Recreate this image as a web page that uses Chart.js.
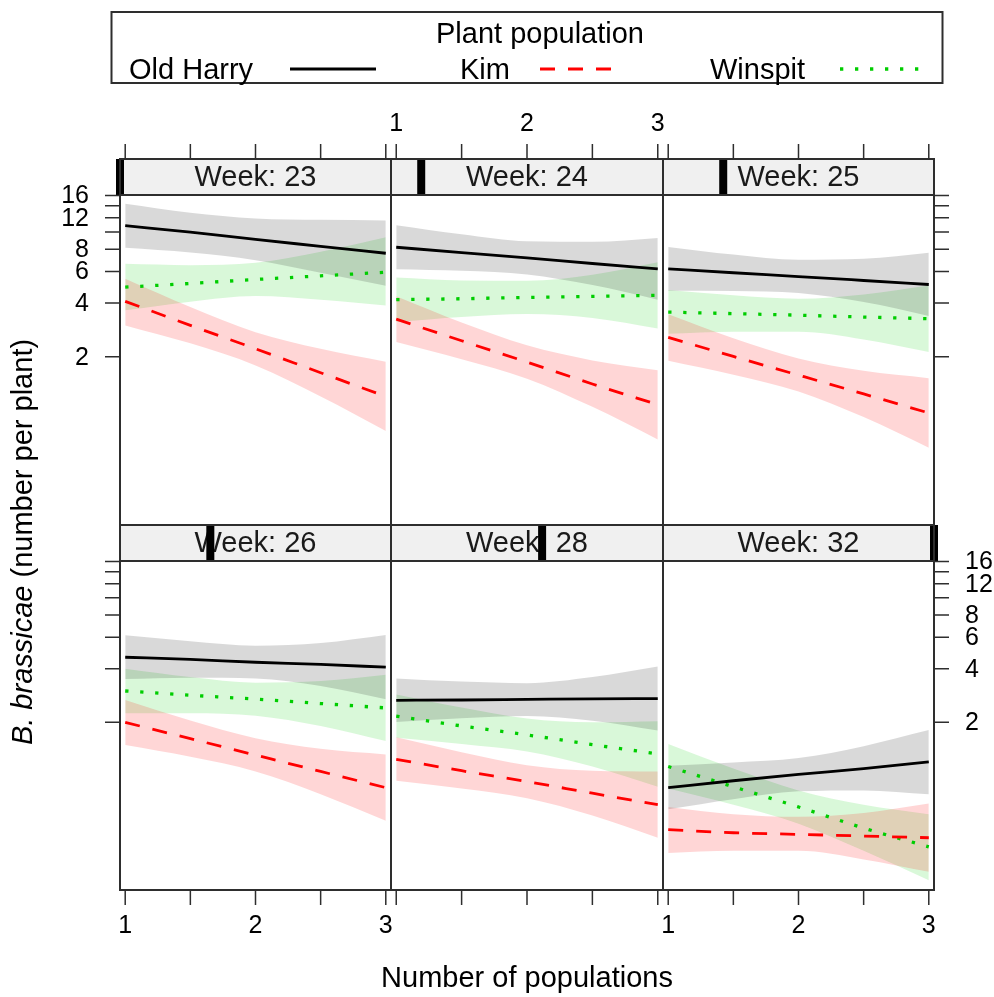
<!DOCTYPE html>
<html>
<head>
<meta charset="utf-8">
<script src="https://cdn.jsdelivr.net/npm/chart.js@4.4.1/dist/chart.umd.min.js"></script>
<style>
  body { margin: 0; background: #fff; }
  #wrap { position: relative; width: 994px; height: 997px; }
  #wrap canvas { position: absolute; left: 0; top: 0; }
</style>
</head>
<body>
<div id="wrap"></div>
<script>
// ---- data --------------------------------------------------------------
const weeks = [23, 24, 25, 26, 28, 32];
const populations = ['Old Harry', 'Kim', 'Winspit'];
const nPops = [1, 1.5, 2, 2.5, 3];

const xTickValues = [1, 1.5, 2, 2.5, 3];
const xTickLabels = ['1', '', '2', '', '3'];
const yTickValues = [2, 4, 6, 8, 10, 12, 14, 16];
const yTickLabels = ['2', '4', '6', '8', '', '12', '', '16'];

// one row per week, one value per number of populations
const oldHarryFit = [
  [10.84, 9.97, 9.08, 8.31, 7.60],
  [8.21, 7.67, 7.16, 6.66, 6.22],
  [6.22, 5.91, 5.63, 5.35, 5.08],
  [4.64, 4.51, 4.35, 4.23, 4.08],
  [2.66, 2.67, 2.69, 2.71, 2.72],
  [0.86, 0.94, 1.02, 1.10, 1.20]
];
const oldHarryUpper = [
  [14.4, 12.8, 11.9, 11.7, 11.6],
  [10.9, 9.70, 8.86, 8.80, 9.26],
  [8.25, 7.47, 6.98, 7.07, 7.64],
  [6.16, 5.70, 5.39, 5.58, 6.19],
  [3.53, 3.39, 3.32, 3.59, 4.12],
  [1.14, 1.19, 1.26, 1.47, 1.81]
];
const oldHarryLower = [
  [8.15, 7.67, 6.95, 5.91, 5.00],
  [6.19, 6.06, 5.78, 5.04, 4.18],
  [4.69, 4.67, 4.55, 4.05, 3.39],
  [3.50, 3.56, 3.52, 3.20, 2.70],
  [2.01, 2.11, 2.17, 2.04, 1.80],
  [0.65, 0.74, 0.82, 0.83, 0.79]
];

const kimFit = [
  [4.09, 3.00, 2.22, 1.63, 1.20],
  [3.25, 2.46, 1.87, 1.41, 1.08],
  [2.57, 2.01, 1.58, 1.24, 0.97],
  [2.00, 1.62, 1.31, 1.06, 0.86],
  [1.24, 1.07, 0.93, 0.80, 0.69],
  [0.50, 0.48, 0.47, 0.46, 0.45]
];
const kimUpper = [
  [5.47, 3.80, 2.75, 2.22, 1.88],
  [4.36, 3.11, 2.32, 1.91, 1.68],
  [3.46, 2.54, 1.96, 1.67, 1.52],
  [2.67, 2.05, 1.63, 1.42, 1.32],
  [1.65, 1.36, 1.15, 1.07, 1.06],
  [0.67, 0.61, 0.59, 0.62, 0.70]
];
const kimLower = [
  [3.00, 2.38, 1.79, 1.20, 0.77],
  [2.42, 1.94, 1.51, 1.05, 0.69],
  [1.90, 1.59, 1.28, 0.92, 0.62],
  [1.49, 1.28, 1.06, 0.79, 0.56],
  [0.94, 0.85, 0.75, 0.60, 0.45],
  [0.37, 0.38, 0.38, 0.34, 0.29]
];

const winspitFit = [
  [4.91, 5.15, 5.42, 5.68, 5.95],
  [4.18, 4.23, 4.30, 4.36, 4.42],
  [3.56, 3.49, 3.42, 3.34, 3.27],
  [3.00, 2.84, 2.70, 2.55, 2.41],
  [2.17, 1.91, 1.70, 1.50, 1.33],
  [1.13, 0.87, 0.67, 0.51, 0.40]
];
const winspitUpper = [
  [6.63, 6.52, 6.72, 7.74, 9.33],
  [5.56, 5.35, 5.33, 5.76, 6.77],
  [4.73, 4.42, 4.23, 4.47, 5.02],
  [4.00, 3.59, 3.34, 3.41, 3.70],
  [2.87, 2.42, 2.10, 2.00, 2.03],
  [1.51, 1.10, 0.83, 0.69, 0.61]
];
const winspitLower = [
  [3.64, 4.07, 4.38, 4.18, 3.88],
  [3.13, 3.34, 3.47, 3.30, 2.88],
  [2.69, 2.76, 2.76, 2.50, 2.13],
  [2.25, 2.25, 2.18, 1.91, 1.57],
  [1.64, 1.51, 1.37, 1.13, 0.87],
  [0.85, 0.69, 0.54, 0.38, 0.26]
];

// ---- layout ------------------------------------------------------------
const W = 994, H = 997;
const COLS = [[120, 391], [391, 663], [663, 934]];
const ROWS = [[195, 525], [561, 890]];
const STRIP_H = 36;
const TICK = 15;
const FONT = '"Liberation Sans", Arial, Helvetica, sans-serif';
const FRAME = '#2e2e2e';

const groups = [
  { fit: oldHarryFit, lo: oldHarryLower, hi: oldHarryUpper,
    line: '#000000', band: 'rgba(0,0,0,0.15)', dash: [], width: 2.8 },
  { fit: kimFit, lo: kimLower, hi: kimUpper,
    line: '#ff0000', band: 'rgba(255,0,0,0.16)', dash: [15, 13], width: 2.8 },
  { fit: winspitFit, lo: winspitLower, hi: winspitUpper,
    line: '#00cd00', band: 'rgba(0,205,0,0.15)', dash: [3.3, 11.7], width: 3.3 }
];

function pts(arr) {
  return nPops.map((x, i) => ({ x: x, y: arr[i] }));
}

// key, axis titles: drawn once on the first panel's canvas
function drawPageText(ctx) {
  ctx.save();
  ctx.fillStyle = '#000';
  ctx.strokeStyle = FRAME;
  ctx.lineWidth = 2;
  ctx.strokeRect(111.5, 12, 831, 71);

  ctx.font = '29px ' + FONT;
  ctx.textBaseline = 'alphabetic';
  ctx.textAlign = 'center';
  ctx.fillText('Plant population', 540, 43);

  ctx.textAlign = 'left';
  const keyText = [129, 460, 710];
  const keyLine = [[290, 376], [540, 618], [840, 923]];
  populations.forEach((name, i) => {
    ctx.fillText(name, keyText[i], 79);
    const g = groups[i];
    ctx.beginPath();
    ctx.setLineDash(g.dash);
    ctx.strokeStyle = g.line;
    ctx.lineWidth = g.width;
    ctx.moveTo(keyLine[i][0], 69);
    ctx.lineTo(keyLine[i][1], 69);
    ctx.stroke();
  });
  ctx.setLineDash([]);

  ctx.textAlign = 'center';
  ctx.fillText('Number of populations', 527, 987);

  // y title with italic species name
  ctx.translate(24, 542);
  ctx.rotate(-Math.PI / 2);
  ctx.textBaseline = 'middle';
  ctx.textAlign = 'left';
  const it = 'italic 29px ' + FONT, rm = '29px ' + FONT;
  ctx.font = it;
  const w1 = ctx.measureText('B. brassicae').width;
  ctx.font = rm;
  const w2 = ctx.measureText(' (number per plant)').width;
  const sx = -(w1 + w2) / 2;
  ctx.font = it;
  ctx.fillText('B. brassicae', sx, 0);
  ctx.font = rm;
  ctx.fillText(' (number per plant)', sx + w1, 0);
  ctx.restore();
}

// strip, frame, outer ticks and labels for one panel
const latticePanel = {
  id: 'latticePanel',
  afterDraw(chart, args, o) {
    const ctx = chart.ctx, a = chart.chartArea;
    const xs = chart.scales.x, ys = chart.scales.y;
    const stripTop = a.top - STRIP_H;
    ctx.save();

    ctx.fillStyle = '#f0f0f0';
    ctx.fillRect(a.left, stripTop, a.width, STRIP_H);
    ctx.fillStyle = '#1a1a1a';
    ctx.font = '29px ' + FONT;
    ctx.textAlign = 'center';
    ctx.textBaseline = 'middle';
    ctx.fillText('Week: ' + o.week, (a.left + a.right) / 2, stripTop + STRIP_H / 2 + 1);

    const frac = (o.week - weeks[0]) / (weeks[weeks.length - 1] - weeks[0]);
    const bx = a.left + frac * a.width;
    ctx.fillStyle = '#000';
    ctx.fillRect(bx - 4, stripTop, 8, STRIP_H);

    ctx.strokeStyle = FRAME;
    ctx.lineWidth = 2;
    ctx.strokeRect(a.left, stripTop, a.width, STRIP_H);
    ctx.strokeRect(a.left, a.top, a.width, a.height);

    ctx.beginPath();
    ctx.lineWidth = 1.5;
    ctx.font = '25px ' + FONT;
    ctx.fillStyle = '#000';
    const labels = [];
    if (o.top) {
      xTickValues.forEach((v, i) => {
        const px = xs.getPixelForValue(v);
        ctx.moveTo(px, stripTop);
        ctx.lineTo(px, stripTop - TICK);
        if (o.topLabels && xTickLabels[i]) labels.push([xTickLabels[i], px, stripTop - 36, 'center']);
      });
    }
    if (o.bottom) {
      xTickValues.forEach((v, i) => {
        const px = xs.getPixelForValue(v);
        ctx.moveTo(px, a.bottom);
        ctx.lineTo(px, a.bottom + TICK);
        if (o.bottomLabels && xTickLabels[i]) labels.push([xTickLabels[i], px, a.bottom + 35, 'center']);
      });
    }
    if (o.left) {
      yTickValues.forEach((v, i) => {
        const py = ys.getPixelForValue(v);
        ctx.moveTo(a.left, py);
        ctx.lineTo(a.left - TICK, py);
        if (o.leftLabels && yTickLabels[i]) labels.push([yTickLabels[i], a.left - 31, py, 'right']);
      });
    }
    if (o.right) {
      yTickValues.forEach((v, i) => {
        const py = ys.getPixelForValue(v);
        ctx.moveTo(a.right, py);
        ctx.lineTo(a.right + TICK, py);
        if (o.rightLabels && yTickLabels[i]) labels.push([yTickLabels[i], a.right + 31, py, 'left']);
      });
    }
    ctx.stroke();
    labels.forEach(([t, x, y, al]) => {
      ctx.textAlign = al;
      ctx.fillText(t, x, y + 1);
    });
    ctx.restore();

    if (o.pageText) drawPageText(ctx);
  }
};

const wrap = document.getElementById('wrap');

weeks.forEach((week, p) => {
  const row = p < 3 ? 0 : 1, col = p % 3;
  const canvas = document.createElement('canvas');
  canvas.width = W;
  canvas.height = H;
  wrap.appendChild(canvas);

  const datasets = [];
  groups.forEach((g, gi) => {
    datasets.push({
      label: populations[gi] + ' lower',
      data: pts(g.lo[p]),
      borderColor: 'rgba(0,0,0,0)', borderWidth: 0,
      pointRadius: 0, fill: false, order: 2,
      cubicInterpolationMode: 'monotone'
    });
    datasets.push({
      label: populations[gi] + ' upper',
      data: pts(g.hi[p]),
      borderColor: 'rgba(0,0,0,0)', borderWidth: 0,
      backgroundColor: g.band,
      pointRadius: 0, fill: '-1', order: 2,
      cubicInterpolationMode: 'monotone'
    });
  });
  groups.forEach((g, gi) => {
    datasets.push({
      label: populations[gi],
      data: pts(g.fit[p]),
      borderColor: g.line, borderWidth: g.width,
      borderDash: g.dash, borderCapStyle: 'butt',
      pointRadius: 0, fill: false, order: 0,
      cubicInterpolationMode: 'monotone'
    });
  });

  new Chart(canvas, {
    type: 'line',
    data: { datasets: datasets },
    options: {
      responsive: false,
      animation: false,
      devicePixelRatio: 1,
      layout: {
        padding: {
          left: COLS[col][0],
          right: W - COLS[col][1],
          top: ROWS[row][0],
          bottom: H - ROWS[row][1]
        }
      },
      scales: {
        x: { type: 'linear', min: 0.96, max: 3.04, bounds: 'data', display: false },
        y: { type: 'logarithmic', min: 0.229, max: 16.1, bounds: 'data', display: false }
      },
      plugins: {
        legend: { display: false },
        tooltip: { enabled: false },
        latticePanel: {
          week: week,
          top: row === 0, topLabels: row === 0 && col === 1,
          bottom: row === 1, bottomLabels: row === 1 && col !== 1,
          left: col === 0, leftLabels: col === 0 && row === 0,
          right: col === 2, rightLabels: col === 2 && row === 1,
          pageText: p === 0
        }
      }
    },
    plugins: [latticePanel]
  });
});
</script>
</body>
</html>
